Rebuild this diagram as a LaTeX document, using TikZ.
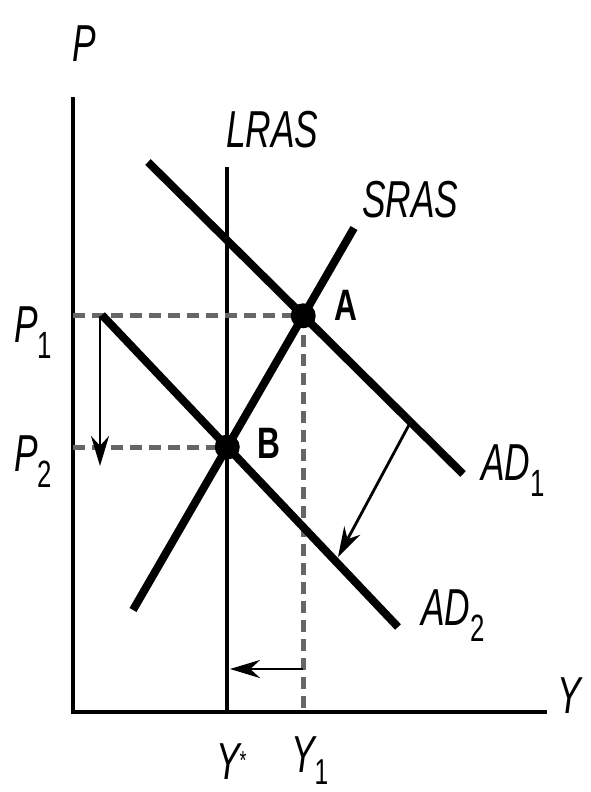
\documentclass[tikz,border=0pt]{standalone}
\usepackage{fontspec}
\setmainfont{Liberation Sans}
\usetikzlibrary{arrows.meta,intersections}
\newcommand{\mysub}[1]{\raisebox{-0.32em}{\upshape\fontsize{38}{38}\selectfont #1}}
\newcommand{\mysubb}[1]{\raisebox{-0.24em}{\upshape\fontsize{36}{36}\selectfont #1}}
\newcommand{\mystar}{\raisebox{0.18em}{\upshape\fontsize{26}{26}\selectfont *}}
\begin{document}
\begin{tikzpicture}[x=1pt,y=-1pt,
 axis/.style={line width=4.5pt},
 curve/.style={line width=8pt},
 guide/.style={line width=5pt, draw=black!60, dash pattern=on 12pt off 7pt},
 shiftarrow/.style={line width=2.8pt, -{Stealth[length=30pt,width=18pt]}},
 lbl/.style={font=\fontsize{52}{52}\selectfont\itshape, xscale=0.68, inner sep=0pt, anchor=base west},
 ptlbl/.style={font=\fontsize{44}{44}\selectfont\bfseries, xscale=0.72, inner sep=0pt, anchor=base west},
 dot/.style={circle, fill=black, minimum size=25pt, inner sep=0pt}]
\useasboundingbox (0,0) rectangle (590,792);
% axes
\coordinate (O) at (73,712);
\coordinate (Ytop) at (73,97);
\coordinate (Xend) at (547,712);
\draw[axis] (Ytop) -- (O) -- (Xend);
% LRAS
\coordinate (LRtop) at (227,167);
\coordinate (LRbot) at (227,712);
\draw[axis,line width=4pt] (LRtop) -- (LRbot);
% curves
\coordinate (S0) at (133,610); \coordinate (S1) at (354,228);
\coordinate (D1a) at (148,162); \coordinate (D1b) at (463,474);
\coordinate (D2a) at (102,315); \coordinate (D2b) at (398,627);
\path[name path=sras] (S0) -- (S1);
\path[name path=adone] (D1a) -- (D1b);
\path[name path=adtwo] (D2a) -- (D2b);
\path[name intersections={of=sras and adone, by=A}];
\path[name intersections={of=sras and adtwo, by=B}];
% guides
\draw[guide] (O |- A) -- (A);
\draw[guide] (O |- B) -- (B);
\draw[guide] (A) -- (A |- O);
\draw[curve] (S0) -- (S1);
\draw[curve] (D1a) -- (D1b);
\draw[curve] (D2a) -- (D2b);
\node[dot] (Adot) at (A) {};
\node[dot] (Bdot) at (B) {};
% arrows
\coordinate (p1s) at (100,316);
\coordinate (p2e) at (100,466);
\draw[shiftarrow] (p1s) -- (p2e);
\coordinate (s1) at (410,423);
\coordinate (s2) at (338,557);
\draw[shiftarrow] (s1) -- (s2);
\coordinate (y1a) at (303,669);
\coordinate (y1b) at (230,669);
\draw[shiftarrow] (y1a) -- (y1b);
% labels
\node[lbl] (lP) at (72,62) {P};
\node[lbl] (lY) at (557,713) {Y};
\node[lbl] (lLRAS) at (226,147) {LRAS};
\node[lbl] (lSRAS) at (362,217) {SRAS};
\node[lbl] (lP1) at (14,342) {P\mysub{1}};
\node[lbl] (lP2) at (14,471) {P\mysub{2}};
\node[lbl] (lAD1) at (481,480) {AD\mysub{1}};
\node[lbl] (lAD2) at (421,625) {AD\mysub{2}};
\node[lbl] (lYs) at (216,779) {Y\mystar};
\node[lbl] (lY1) at (291,772) {Y\mysubb{1}};
\node[ptlbl] (lA) at (334,320) {A};
\node[ptlbl] (lB) at (257,458) {B};
\end{tikzpicture}
\end{document}
